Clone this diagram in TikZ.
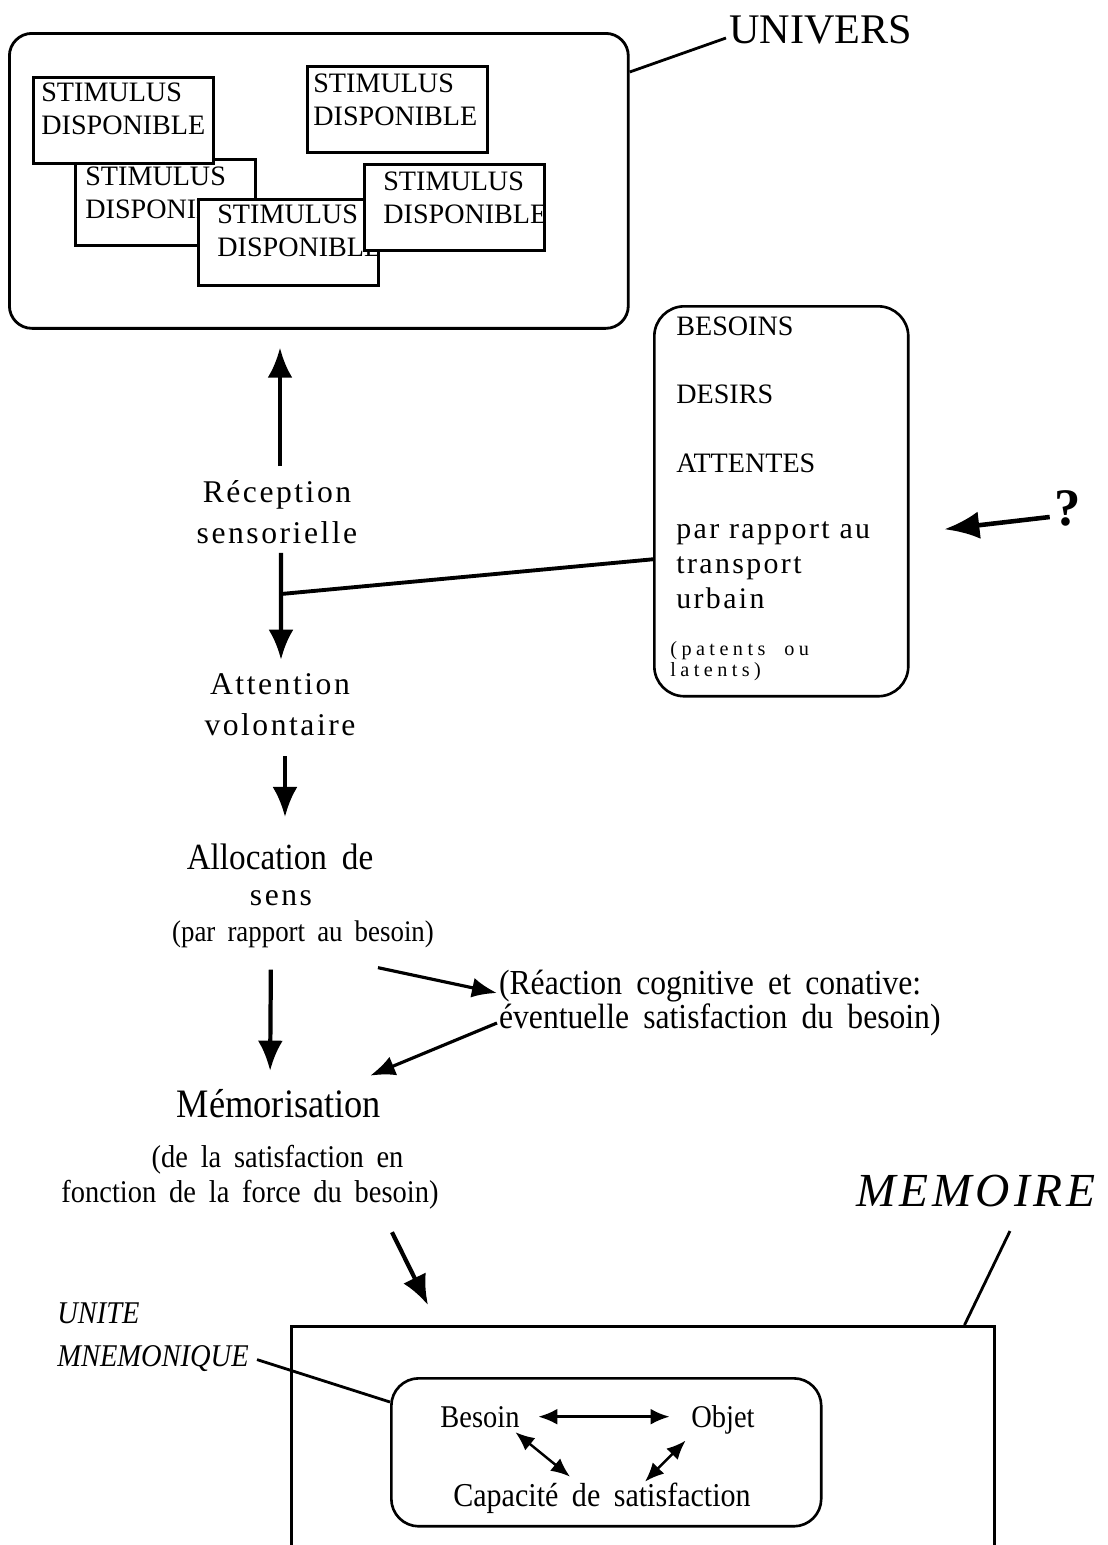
\documentclass[tikz,border=0pt]{standalone}
\usepackage{fontspec}
\setmainfont{Liberation Serif}
\newfontfamily\spaced[LetterSpace=8]{Liberation Serif}
\newfontfamily\wspaced[LetterSpace=22,WordSpace=2]{Liberation Serif}
\newfontfamily\narrow[FakeStretch=0.9,WordSpace=1.8]{Liberation Serif}
\usetikzlibrary{arrows.meta, positioning, calc}
\tikzstyle{world} = [rectangle, draw, line width=1.6pt, rounded corners=0.45cm, minimum width=12.38cm, minimum height=5.9cm, anchor=north west]
\tikzstyle{stimbox} = [rectangle, draw, fill=white, line width=1.5pt, minimum width=3.6cm, minimum height=1.72cm, anchor=north west]
\tikzstyle{stimtext} = [anchor=north west, inner sep=0pt, align=left, font=\fontsize{16}{18.5}\selectfont]
\tikzstyle{needbox} = [rectangle, draw, line width=1.5pt, rounded corners=0.6cm, minimum width=5.08cm, minimum height=7.8cm, anchor=north west]
\tikzstyle{needtext} = [anchor=base west, inner sep=0pt, font=\fontsize{16}{18}\selectfont]
\tikzstyle{stage} = [align=center, inner sep=1pt, font=\spaced\fontsize{18}{23.5}\selectfont]
\tikzstyle{phase} = [align=center, inner sep=1pt, font=\narrow\fontsize{21}{24}\selectfont]
\tikzstyle{note} = [align=center, inner sep=1pt, font=\narrow\fontsize{18}{20}\selectfont]
\tikzstyle{unitword} = [inner sep=2pt, anchor=base, font=\narrow\fontsize{18}{20}\selectfont]
\tikzstyle{tag} = [inner sep=0pt, font=\narrow\itshape\fontsize{18}{24.5}\selectfont]
\tikzstyle{lead} = [line width=1.6pt]
\tikzstyle{flow} = [line width=2.4pt, -{Latex[length=0.6cm,width=0.5cm]}]
\tikzstyle{sideflow} = [line width=1.8pt, -{Latex[length=0.5cm,width=0.4cm]}]
\tikzstyle{ask} = [line width=2.6pt, -{Latex[length=0.7cm,width=0.55cm]}]
\tikzstyle{both} = [line width=1.4pt, {Latex[length=0.38cm,width=0.32cm]}-{Latex[length=0.38cm,width=0.32cm]}]

\begin{document}
\begin{tikzpicture}[x=0.02cm, y=-0.02cm]
  \useasboundingbox (0,0) rectangle (1108,1545);
  % univers and its stimuli
  \node (univers) [world] at (8,32) {};
  \node (univlbl) [anchor=base west, inner sep=0pt, font=\fontsize{24}{28}\selectfont] at (729,43) {UNIVERS};
  \draw [lead] ([yshift=-0.8cm]univers.north east) -- ([xshift=-0.06cm, yshift=0.1cm]univlbl.base west);
  \foreach \n/\x/\y/\dx/\dy in {c/74/158/11/9, a/32/76/9/7, d/197/198/20/7, e/363/163/20/9, b/306/65/7/9}{
    \node (stim\n) [stimbox] at (\x,\y) {};
    \node (stimlbl\n) [stimtext] at ([xshift=\dx*0.02cm, yshift=-\dy*0.02cm]stim\n.north west) {STIMULUS\\DISPONIBLE};
  }
  % besoins
  \node (besoins) [needbox] at (653,305) {};
  \node (needa) [needtext] at (676,335) {BESOINS};
  \node (needb) [needtext] at (676,403) {DESIRS};
  \node (needc) [needtext] at (676,472) {ATTENTES};
  \node (needd) [needtext, font=\spaced\fontsize{17}{20}\selectfont] at (676,538) {par rapport au};
  \node (neede) [needtext, font=\spaced\fontsize{17}{20}\selectfont] at (676,573) {transport};
  \node (needf) [needtext, font=\spaced\fontsize{17}{20}\selectfont] at (676,608) {urbain};
  \node (needg) [needtext, align=left, font=\wspaced\fontsize{11.5}{9.5}\selectfont] at (670,676) {(patents ou\\latents)};
  \node (qmark) [font=\bfseries\fontsize{30}{30}\selectfont, inner sep=1pt] at (1068,508) {?};
  \draw [ask, shorten >=0.7cm] ([xshift=-0.06cm, yshift=-0.18cm]qmark.west) -- ([yshift=-0.64cm]besoins.east);
  % stages
  \node (recep) [stage] at (277,512) {Réception\\sensorielle};
  \node (atten) [stage] at (280,705) {Attention\\volontaire};
  \node (alloc) [phase] at (280,857) {Allocation de};
  \node (sens) [stage] at (281,898) {sens};
  \node (allocnote) [note, font=\narrow\fontsize{17}{19}\selectfont] at (303,934) {(par rapport au besoin)};
  \node (react) [note, anchor=west, align=left, font=\narrow\fontsize{20}{17.8}\selectfont] at (497,1003) {(Réaction cognitive et conative:\\éventuelle satisfaction du besoin)};
  \node (mem) [phase, font=\narrow\fontsize{23}{24}\selectfont] at (279,1104) {Mémorisation};
  \node (memnote) [note] at (250,1177) {\hspace*{1.1cm}(de la satisfaction en\\fonction de la force du besoin)};
  \draw [flow, shorten <=0.24cm, shorten >=0.36cm] ([xshift=0.06cm]recep.north) -- ([xshift=0.06cm]recep.north |- univers.south);
  \coordinate (join) at (281,594);
  \draw [flow, shorten <=0.14cm, shorten >=0.24cm] ([xshift=0.08cm]recep.south) -- ([xshift=0.02cm]atten.north);
  \draw [lead, line width=2.2pt] ([yshift=-1.16cm]besoins.west) -- (join);
  \draw [flow, shorten <=0.36cm, shorten >=0.5cm] ([xshift=0.1cm]atten.south) -- ([xshift=0.1cm]alloc.north);
  \draw [flow, shorten <=0.4cm, shorten >=0.34cm] ([xshift=-0.18cm]alloc.north |- allocnote.south) -- ([xshift=-0.18cm]mem.north);
  \draw [sideflow] ([xshift=-1.16cm, yshift=-0.36cm]allocnote.south east) -- ([yshift=0.2cm]react.west);
  \draw [sideflow] ([yshift=-0.4cm]react.west) -- ([xshift=-0.26cm, yshift=0.24cm]mem.north east);
  % memoire
  \node (memo) [rectangle, draw, line width=1.5pt, minimum width=14.06cm, minimum height=5.4cm, anchor=north west] at (290,1325) {};
  \node (memolbl) [inner sep=0pt, anchor=base, font=\spaced\itshape\fontsize{27}{30}\selectfont] at (976,1206) {MEMOIRE};
  \draw [lead] ([xshift=0.68cm, yshift=-0.5cm]memolbl.base) -- ([xshift=-0.62cm]memo.north east);
  \draw [flow] ([xshift=2.84cm, yshift=-0.42cm]memnote.south) -- ([xshift=2.76cm, yshift=0.4cm]memo.north west);
  \node (unit) [rectangle, draw, line width=1.5pt, rounded corners=0.55cm, minimum width=8.6cm, minimum height=2.96cm, anchor=north west] at (390,1377) {};
  \node (unitlbl) [tag, anchor=north west, align=left] at (57,1302) {UNITE\\MNEMONIQUE};
  \draw [lead] ([xshift=0.16cm, yshift=0.24cm]unitlbl.south east) -- ([yshift=-0.5cm]unit.north west);
  \node (besoin) [unitword] at (480,1427) {Besoin};
  \node (objet) [unitword] at (723,1427) {Objet};
  \node (capa) [unitword, font=\narrow\fontsize{19}{20}\selectfont] at (602,1506) {Capacité de satisfaction};
  \draw [both, shorten <=0.3cm, shorten >=0.36cm] (besoin.east) -- (besoin.east -| objet.west);
  \draw [both] ([xshift=-0.16cm, yshift=-0.02cm]besoin.south east) -- ([xshift=-0.64cm, yshift=0.04cm]capa.north);
  \draw [both] ([xshift=-0.04cm, yshift=-0.06cm]objet.south west) -- ([xshift=0.86cm, yshift=-0.06cm]capa.north);
\end{tikzpicture}
\end{document}
